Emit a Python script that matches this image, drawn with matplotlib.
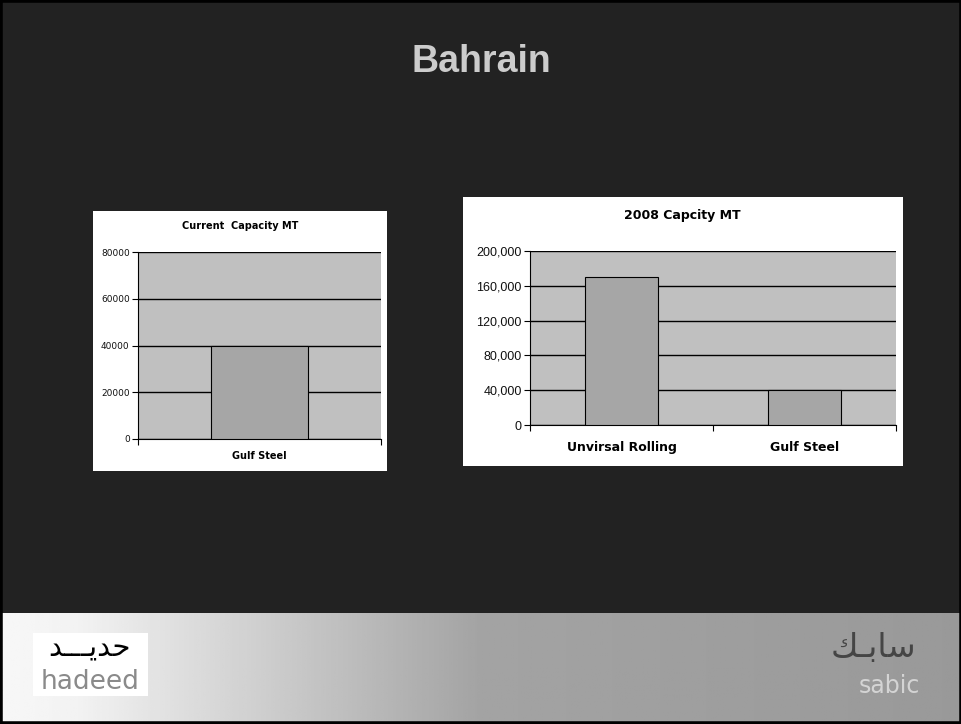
import numpy as np
import matplotlib
matplotlib.use("Agg")
import matplotlib.pyplot as plt
from matplotlib.patches import Rectangle
from matplotlib.ticker import FuncFormatter

# data
left_title = "Current  Capacity MT"
left_cats = ["Gulf Steel"]
left_vals = [40000]
left_ticks = [0, 20000, 40000, 60000, 80000]

right_title = "2008 Capcity MT"
right_cats = ["Unvirsal Rolling", "Gulf Steel"]
right_vals = [170000, 40000]
right_ticks = [0, 40000, 80000, 120000, 160000, 200000]

W, H = 962, 724
BG = "#222222"
PLOT_BG = "#c0c0c0"
BAR = "#a6a6a6"


def fx(x):
    return x / W


def fy(y):
    return 1 - y / H


def box(x0, y0, x1, y1):
    # pixel box -> figure rect
    return [fx(x0), fy(y1), fx(x1) - fx(x0), fy(y0) - fy(y1)]


fig = plt.figure(figsize=(W / 100, H / 100), dpi=100, facecolor=BG)

# bottom gradient band
band = fig.add_axes(box(0, 613, W, H))
grad = np.interp(np.linspace(0, 1, 400), [0, 0.08, 0.5, 1.0], [0.97, 0.95, 0.64, 0.60])
band.imshow(grad[None, :], cmap="gray", vmin=0, vmax=1, aspect="auto", extent=[0, 1, 0, 1])
band.axis("off")

# white panels (behind the chart axes)
fig.patches.append(Rectangle((fx(93), fy(471)), fx(387) - fx(93), fy(211) - fy(471),
                             transform=fig.transFigure, facecolor="white", edgecolor="none", zorder=-1))
fig.patches.append(Rectangle((fx(463), fy(466)), fx(903) - fx(463), fy(197) - fy(466),
                             transform=fig.transFigure, facecolor="white", edgecolor="none", zorder=-1))
# hadeed logo box
fig.patches.append(Rectangle((fx(33), fy(696)), fx(148) - fx(33), fy(633) - fy(696),
                             transform=fig.transFigure, facecolor="white", edgecolor="none", zorder=1))

fig.text(0.5, fy(62), "Bahrain", ha="center", va="center", fontsize=27, fontweight="bold",
         color="#cccccc", family="Liberation Sans")


def style(ax, ticks, fmt, tick_fs, tick_family):
    ax.set_facecolor(PLOT_BG)
    ax.set_yticks(ticks)
    ax.set_ylim(ticks[0], ticks[-1])
    ax.yaxis.set_major_formatter(FuncFormatter(fmt))
    ax.grid(axis="y", color="black", linewidth=1)
    ax.set_axisbelow(True)
    for s in ["top", "right"]:
        ax.spines[s].set_visible(False)
    ax.spines["left"].set_linewidth(0.8)
    ax.spines["bottom"].set_linewidth(0.8)
    ax.tick_params(axis="y", length=4, width=0.8, labelsize=tick_fs, pad=2)
    for lab in ax.get_yticklabels():
        lab.set_family(tick_family)
        lab.set_color("#111111")


# left chart
ax1 = fig.add_axes(box(138, 252, 381, 439))
ax1.bar(range(len(left_cats)), left_vals, width=0.4, color=BAR, edgecolor="black", linewidth=0.8, zorder=3)
ax1.set_xlim(-0.5, len(left_cats) - 0.5)
style(ax1, left_ticks, lambda v, p: f"{int(v)}", 6.5, "DejaVu Sans")
ax1.set_xticks([-0.5, 0.5])
ax1.set_xticklabels([])
ax1.tick_params(axis="x", length=4, width=0.8)
for i, c in enumerate(left_cats):
    ax1.text(i, -0.09, c, transform=ax1.get_xaxis_transform(), ha="center", va="center",
             fontsize=7, fontweight="bold", family="DejaVu Sans")
fig.text(fx(240), fy(226), left_title, ha="center", va="center", fontsize=7,
         fontweight="bold", family="DejaVu Sans")

# right chart
ax2 = fig.add_axes(box(530, 251, 896, 425))
ax2.bar(range(len(right_cats)), right_vals, width=0.4, color=BAR, edgecolor="black", linewidth=0.8, zorder=3)
ax2.set_xlim(-0.5, len(right_cats) - 0.5)
style(ax2, right_ticks, lambda v, p: f"{int(v):,}", 9, "Liberation Sans")
ax2.set_xticks(np.arange(len(right_cats) + 1) - 0.5)
ax2.set_xticklabels([])
ax2.tick_params(axis="x", length=4, width=0.8)
for i, c in enumerate(right_cats):
    ax2.text(i, -0.128, c, transform=ax2.get_xaxis_transform(), ha="center", va="center",
             fontsize=9, fontweight="bold", family="DejaVu Sans")
fig.text(fx(682), fy(216), right_title, ha="center", va="center", fontsize=9,
         fontweight="bold", family="DejaVu Sans")

# logos
fig.text(fx(90), fy(648), "\ufeaa\u0640\u0640\u0640\ufef3\ufeaa\ufea3", ha="center", va="center",
         fontsize=21, color="black", family="DejaVu Sans", zorder=2)
fig.text(fx(90), fy(682), "hadeed", ha="center", va="center", fontsize=19, color="#8a8a8a",
         family="DejaVu Sans", zorder=2)
fig.text(fx(873), fy(648), "\ufeda\u0640\ufe91\ufe8e\ufeb3", ha="center", va="center",
         fontsize=24, color="#454545", family="DejaVu Sans")
fig.text(fx(889), fy(686), "sabic", ha="center", va="center", fontsize=17, color="#d4d4d4",
         family="DejaVu Sans")

# slide frame
fig.patches.append(Rectangle((0, 0), 1, 1, transform=fig.transFigure, fill=False,
                             edgecolor="black", linewidth=4, zorder=10))

fig.savefig("out.png", dpi=100, facecolor=BG)
